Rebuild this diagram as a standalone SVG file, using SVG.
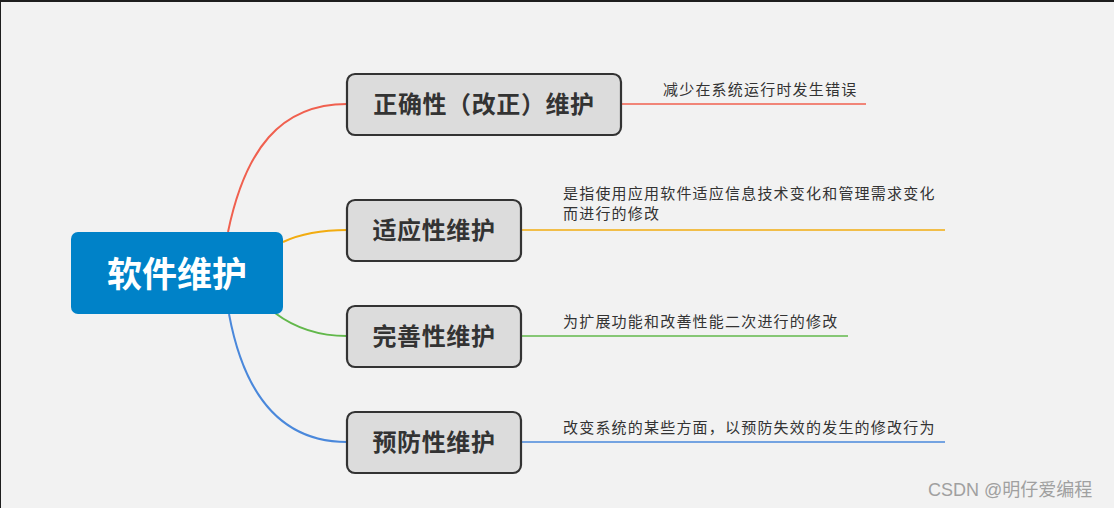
<svg xmlns="http://www.w3.org/2000/svg" width="1114" height="508" viewBox="0 0 1114 508">
<style>
.node rect{fill:#dcdcdc;stroke:#333;stroke-width:2.2}
.node text{font-family:"Noto Sans CJK SC","Noto Sans",sans-serif;font-weight:bold;font-size:24px;letter-spacing:0.6px;fill:#333;text-anchor:middle}
.desc{font-family:"Noto Sans CJK SC","Noto Sans",sans-serif;font-size:15px;letter-spacing:1.2px;fill:#333}
.conn path{fill:none;stroke-width:2}
.conn line{stroke-width:1.3}
</style>
<rect x="0" y="0" width="1114" height="508" fill="#f2f2f2"/>
<rect x="0" y="0" width="1114" height="2" fill="#1e1e1e"/>
<rect x="0" y="0" width="1" height="508" fill="#1e1e1e"/>
<g id="connectors" class="conn">
<path d="M228,232 C245,150 280,104 347,104" stroke="#f0604f"/>
<path d="M283,242 C300,234 320,230 347,230" stroke="#f2ac10"/>
<path d="M275,313 C295,328 320,336 347,336" stroke="#62b84b"/>
<path d="M229,314 C245,400 285,442 347,442" stroke="#4a88db"/>
<line x1="621" y1="104" x2="866" y2="104" stroke="#f0604f"/>
<line x1="521" y1="230" x2="945" y2="230" stroke="#f2ac10"/>
<line x1="521" y1="336" x2="848" y2="336" stroke="#62b84b"/>
<line x1="521" y1="442" x2="945" y2="442" stroke="#4a88db"/>
</g>
<g id="root">
<rect x="71" y="232" width="212" height="82" rx="7" fill="#0082c8"/>
<text x="177" y="287" font-family="Noto Sans CJK SC,Noto Sans,sans-serif" font-weight="bold" font-size="35" fill="#fff" text-anchor="middle">软件维护</text>
</g>
<g id="n1" class="node">
<rect x="347" y="74" width="274" height="61" rx="8"/>
<text x="484" y="113">正确性（改正）维护</text>
</g>
<g id="n2" class="node">
<rect x="347" y="200" width="174" height="61" rx="8"/>
<text x="434" y="239">适应性维护</text>
</g>
<g id="n3" class="node">
<rect x="347" y="306" width="174" height="61" rx="8"/>
<text x="434" y="345">完善性维护</text>
</g>
<g id="n4" class="node">
<rect x="347" y="412" width="174" height="61" rx="8"/>
<text x="434" y="451">预防性维护</text>
</g>
<g id="d1"><text class="desc" x="663" y="95">减少在系统运行时发生错误</text></g>
<g id="d2"><text class="desc" x="563" y="199">是指使用应用软件适应信息技术变化和管理需求变化</text><text class="desc" x="563" y="219">而进行的修改</text></g>
<g id="d3"><text class="desc" x="563" y="327">为扩展功能和改善性能二次进行的修改</text></g>
<g id="d4"><text class="desc" x="563" y="433">改变系统的某些方面，以预防失效的发生的修改行为</text></g>
<text x="928" y="496" font-family="Liberation Sans,Noto Sans CJK SC,sans-serif" font-size="18" fill="#a0a0a0">CSDN @明仔爱编程</text>
</svg>
